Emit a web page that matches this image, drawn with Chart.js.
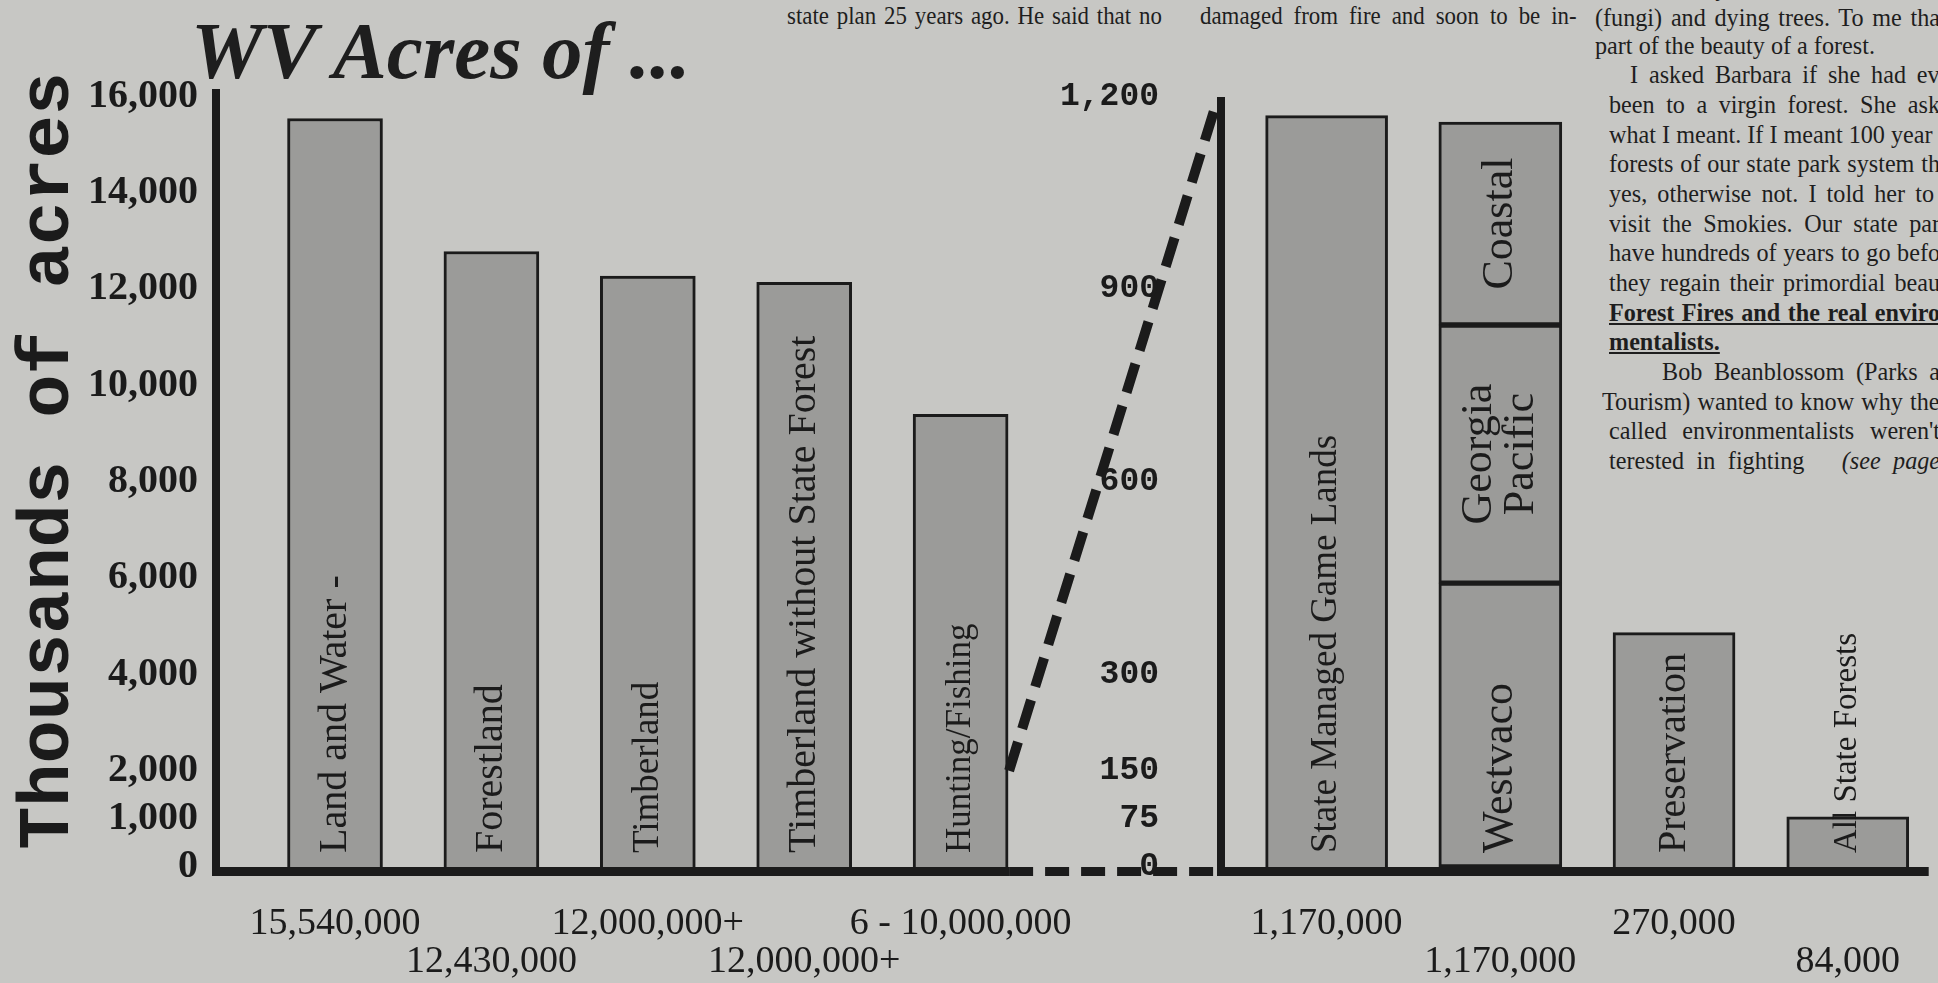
<!DOCTYPE html>
<html>
<head>
<meta charset="utf-8">
<title>WV Acres of ...</title>
<script src="https://cdn.jsdelivr.net/npm/chart.js@4.4.1/dist/chart.umd.min.js"></script>
<style>
  html, body { margin: 0; padding: 0; }
  body { position: relative; width: 1938px; height: 983px; overflow: hidden; background: #c7c7c4; color: #1e1e1e; font-family: "Liberation Serif", serif; }
  canvas { position: absolute; top: 0; }
  #leftChart { left: 0; }
  #rightChart { left: 1030px; }
  .headline { position: absolute; left: 191px; top: 11px; font: italic bold 81px/1 "Liberation Serif", serif; white-space: nowrap; }
  .ln { position: absolute; height: 30px; line-height: 30px; font-size: 26px; white-space: nowrap; text-align: justify; text-align-last: justify; transform: scaleX(0.88); transform-origin: 0 0; }
  .cc { transform: scaleX(0.93); }
  .end { text-align-last: left; }
  .hl { font-weight: bold; text-decoration: underline; }
</style>
</head>
<body>
<div class="headline">WV Acres of ...</div>

<div class="ln" style="left:787px;top:-29px;width:426px">volved in the original creation of the</div>
<div class="ln" style="left:787px;top:1px;width:426px">state plan 25 years ago. He said that no</div>
<div class="ln" style="left:1200px;top:-29px;width:428px">The response was that the trees were</div>
<div class="ln" style="left:1200px;top:1px;width:428px">damaged from fire and soon to be in-</div>

<div class="ln cc" style="left:1595px;top:-27px;width:371px">the last 20 years, with all the rot</div>
<div class="ln cc" style="left:1595px;top:3px;width:371px">(fungi) and dying trees. To me tha</div>
<div class="ln cc end" style="left:1595px;top:31px;width:371px">part of the beauty of a forest.</div>
<div class="ln cc" style="left:1630px;top:60px;width:333px">I asked Barbara if she had ev</div>
<div class="ln cc" style="left:1609px;top:90px;width:356px">been to a virgin forest. She ask</div>
<div class="ln cc" style="left:1609px;top:120px;width:356px">what I meant. If I meant 100 year o</div>
<div class="ln cc" style="left:1609px;top:149px;width:356px">forests of our state park system th</div>
<div class="ln cc" style="left:1609px;top:179px;width:356px">yes, otherwise not. I told her to&nbsp;</div>
<div class="ln cc" style="left:1609px;top:209px;width:356px">visit the Smokies. Our state par</div>
<div class="ln cc" style="left:1609px;top:238px;width:356px">have hundreds of years to go befo</div>
<div class="ln cc" style="left:1609px;top:268px;width:356px">they regain their primordial beau</div>
<div class="ln cc hl" style="left:1609px;top:298px;width:356px">Forest Fires and the real enviro</div>
<div class="ln cc hl end" style="left:1609px;top:327px;width:356px">mentalists.</div>
<div class="ln cc" style="left:1662px;top:357px;width:299px">Bob Beanblossom (Parks a</div>
<div class="ln cc" style="left:1602px;top:387px;width:363px">Tourism) wanted to know why the</div>
<div class="ln cc" style="left:1609px;top:416px;width:356px">called environmentalists weren't</div>
<div class="ln cc" style="left:1609px;top:446px;width:356px">terested in fighting &nbsp; <i>(see page</i></div>

<canvas id="leftChart" width="1221" height="983"></canvas>
<canvas id="rightChart" width="908" height="983"></canvas>

<script>
// left panel, thousands of acres
const leftCategories = ['Land and Water -', 'Forestland', 'Timberland', 'Timberland without State Forest', 'Hunting/Fishing'];
const leftValues = [15540, 12780, 12270, 12140, 9400];
const leftAmounts = ['15,540,000', '12,430,000', '12,000,000+', '12,000,000+', '6 - 10,000,000'];
const leftTicks = [0, 1000, 2000, 4000, 6000, 8000, 10000, 12000, 14000, 16000];

// right panel (zoomed in), thousands of acres
const rightCategories = ['State Managed Game Lands', 'Company lands', 'Preservation', 'All State Forests'];
const rightValues = [1170, null, 365, 78];
const rightAmounts = ['1,170,000', '1,170,000', '270,000', '84,000'];
const rightTicks = [0, 75, 150, 300, 600, 900, 1200];

// the company bar is split in three
const companyNames = ['Westvaco', 'Georgia Pacific', 'Coastal'];
const companyValues = [442, 402, 316];
const companySlot = 1;

const ink = '#1b1b1b';
const barFill = '#9b9b99';
const plotTop = 93, plotBottom = 867, rightTop = 101;
const leftMax = 16070;
// both panels share the same pixel height per 1,200 / 16,000
const rightMax = 1200 * leftMax / 16000 * (plotBottom - rightTop) / (plotBottom - plotTop);

// rotated names written inside the bars
const barText = {
    id: 'barText',
    afterDatasetsDraw(chart) {
        const ctx = chart.ctx;
        chart.data.datasets.forEach((ds, di) => {
            if (!ds.barLabels) return;
            chart.getDatasetMeta(di).data.forEach((bar, i) => {
                const lines = [].concat(ds.barLabels[i]);
                ctx.save();
                ctx.fillStyle = ink;
                ctx.font = Array.isArray(ds.labelFont) ? ds.labelFont[i] : ds.labelFont;
                ctx.textBaseline = 'middle';
                if (ds.labelAnchor === 'center') {
                    ctx.translate(bar.x, (bar.y + bar.base) / 2);
                    ctx.textAlign = 'center';
                } else {
                    ctx.translate(bar.x, bar.base - 14);
                    ctx.textAlign = 'left';
                }
                ctx.rotate(-Math.PI / 2);
                lines.forEach((t, k) => {
                    ctx.fillText(t, 0, (k - (lines.length - 1) / 2) * (ds.labelLineHeight || 0));
                });
                ctx.restore();
            });
        });
    }
};

// thick base line, plus the dashed "zoom" lines on the left panel
const baseline = {
    id: 'baseline',
    afterDatasetsDraw(chart, args, opts) {
        const {ctx, chartArea} = chart;
        const y = chartArea.bottom + 4.5;
        let solidEnd = chartArea.right;
        if (opts.zoomFrom !== undefined) {
            const meta = chart.getDatasetMeta(0);
            const last = meta.data[meta.data.length - 1];
            solidEnd = last.x + last.width / 2 + 1;
        }
        ctx.save();
        ctx.strokeStyle = ink;
        ctx.lineWidth = 9;
        ctx.beginPath();
        ctx.moveTo(chartArea.left - 4, y);
        ctx.lineTo(solidEnd, y);
        ctx.stroke();
        if (opts.zoomFrom !== undefined) {
            const ys = chart.scales.y;
            ctx.setLineDash([24, 12]);
            ctx.beginPath();
            ctx.moveTo(solidEnd, y);
            ctx.lineTo(chartArea.right, y);
            ctx.stroke();
            ctx.lineWidth = 10;
            ctx.setLineDash([30, 14]);
            ctx.beginPath();
            ctx.moveTo(solidEnd, ys.getPixelForValue(opts.zoomFrom));
            ctx.lineTo(chartArea.right - 4, ys.getPixelForValue(opts.zoomTo));
            ctx.stroke();
        }
        ctx.restore();
    }
};

const axisTitle = {
    id: 'axisTitle',
    afterDraw(chart, args, opts) {
        const {ctx, chartArea} = chart;
        ctx.save();
        ctx.fillStyle = ink;
        ctx.font = 'bold 72px "Liberation Mono"';
        ctx.textAlign = 'center';
        ctx.textBaseline = 'middle';
        ctx.translate(opts.x, (chartArea.top + chartArea.bottom) / 2 - 19);
        ctx.rotate(-Math.PI / 2);
        ctx.fillText(opts.text, 0, 0);
        ctx.restore();
    }
};

function twoRows(list) {
    return (v, i) => i % 2 ? ['', list[i]] : [list[i], ''];
}

function baseOptions(top, xMin, xMax, yMax, yWidth, ticks, amounts, tickFont, tickPad) {
    return {
        animation: false,
        responsive: false,
        events: [],
        layout: { padding: { top: top, left: 0, right: 0, bottom: 0 } },
        plugins: { legend: { display: false }, tooltip: { enabled: false } },
        scales: {
            x: {
                type: 'linear',
                min: xMin,
                max: xMax,
                offset: false,
                stacked: true,
                afterFit: s => { s.height = 983 - plotBottom; },
                afterBuildTicks: s => { s.ticks = amounts.map((a, i) => ({ value: i })); },
                grid: { display: false, drawTicks: false },
                border: { display: false },
                ticks: {
                    autoSkip: false,
                    maxRotation: 0,
                    padding: 38,
                    color: ink,
                    font: { family: 'Liberation Serif', size: 38, lineHeight: 1 },
                    callback: twoRows(amounts)
                }
            },
            y: {
                min: 0,
                max: yMax,
                stacked: true,
                afterFit: s => { s.width = yWidth; },
                afterBuildTicks: s => { s.ticks = ticks.map(v => ({ value: v })); },
                grid: { display: false, drawTicks: false },
                border: { display: true, width: 8, color: ink },
                ticks: {
                    padding: tickPad,
                    color: ink,
                    font: tickFont,
                    callback: v => v.toLocaleString('en-US')
                }
            }
        }
    };
}

const leftOptions = baseOptions(plotTop, -0.761, 5.665, leftMax, 216, leftTicks, leftAmounts,
    { family: 'Liberation Serif', weight: 'bold', size: 40 }, 18);
leftOptions.plugins.baseline = { zoomFrom: 2000, zoomTo: 15900 };
leftOptions.plugins.axisTitle = { text: 'Thousands of acres', x: 50 };

new Chart(document.getElementById('leftChart'), {
    type: 'bar',
    data: {
        datasets: [{
            data: leftValues.map((v, i) => ({ x: i, y: v })),
            barLabels: leftCategories,
            labelFont: ['40px "Liberation Serif"', '40px "Liberation Serif"', '37px "Liberation Serif"',
                '40px "Liberation Serif"', '35px "Liberation Serif"'],
            backgroundColor: barFill,
            borderColor: ink,
            borderWidth: 3,
            barThickness: 95
        }]
    },
    options: leftOptions,
    plugins: [barText, baseline, axisTitle]
});

const rightOptions = baseOptions(rightTop, -0.608, 3.466, rightMax, 191, rightTicks, rightAmounts,
    { family: 'Liberation Mono', weight: 'bold', size: 33 }, 62);
rightOptions.plugins.baseline = {};

const mainIdx = rightValues.map((v, i) => i).filter(i => rightValues[i] !== null);
const rightDatasets = [{
    data: mainIdx.map(i => ({ x: i, y: rightValues[i] })),
    barLabels: mainIdx.map(i => rightCategories[i]),
    labelFont: ['37px "Liberation Serif"', '40px "Liberation Serif"', '33px "Liberation Serif"'],
    backgroundColor: barFill,
    borderColor: ink,
    borderWidth: 3,
    barThickness: 122
}];
companyNames.forEach((name, k) => {
    rightDatasets.push({
        data: [{ x: companySlot, y: companyValues[k] }],
        barLabels: [name.split(' ')],
        labelFont: '44px "Liberation Serif"',
        labelAnchor: k === 0 ? 'base' : 'center',
        labelLineHeight: 42,
        backgroundColor: barFill,
        borderColor: ink,
        borderWidth: 3,
        borderSkipped: false,
        barThickness: 123
    });
});

new Chart(document.getElementById('rightChart'), {
    type: 'bar',
    data: { datasets: rightDatasets },
    options: rightOptions,
    plugins: [barText, baseline]
});
</script>
</body>
</html>
